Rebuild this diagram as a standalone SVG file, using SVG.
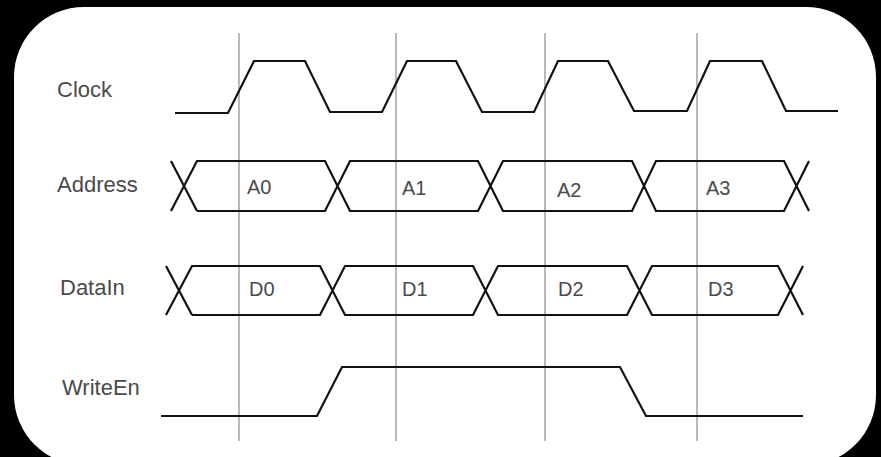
<svg xmlns="http://www.w3.org/2000/svg" width="881" height="457" viewBox="0 0 881 457">
<style>
.sig{fill:none;stroke:#111;stroke-width:2.2;stroke-linejoin:miter}
.grid{stroke:#8a8a8a;stroke-width:1.2}
.name{font-family:"Liberation Sans",Arial,sans-serif;font-size:22px;fill:#4a4a4a}
.val{font-family:"Liberation Sans",Arial,sans-serif;font-size:20px;fill:#4a4a4a}
</style>
<rect x="0" y="0" width="881" height="457" fill="#000"/>
<rect x="14" y="7" width="862" height="458" rx="70" ry="70" fill="#fff"/>
<g id="grid">
<line class="grid" x1="239" y1="33" x2="239" y2="441"/>
<line class="grid" x1="396" y1="33" x2="396" y2="441"/>
<line class="grid" x1="545" y1="33" x2="545" y2="441"/>
<line class="grid" x1="697" y1="33" x2="697" y2="441"/>
</g>
<g id="clock">
<text class="name" x="57" y="97">Clock</text>
<polyline class="sig" points="175,113 228,113 254,61 305,61 330,112 382,112 407,61 456,61 482,112 534,112 558,61 608,61 634,111 687,111 710,61 762,61 786,111 838,111"/>
</g>
<g id="address">
<text class="name" x="57" y="192">Address</text>
<path class="sig" d="M171,161 L197,211 M171,211 L197,161 L325,161 L350,211 L478,211 L503,161 L632,161 L656,211 L784,211 L809,161 M197,211 L325,211 L350,161 L478,161 L503,211 L632,211 L656,161 L784,161 L809,211"/>
<text class="val" x="247" y="194">A0</text>
<text class="val" x="402" y="195">A1</text>
<text class="val" x="557" y="197">A2</text>
<text class="val" x="706" y="195">A3</text>
</g>
<g id="datain">
<text class="name" x="60" y="295">DataIn</text>
<path class="sig" d="M166,266 L192,315 M166,315 L192,266 L320,266 L345,315 L473,315 L498,266 L627,266 L652,315 L778,315 L803,266 M192,315 L320,315 L345,266 L473,266 L498,315 L627,315 L652,266 L778,266 L803,315"/>
<text class="val" x="249" y="296">D0</text>
<text class="val" x="402" y="296">D1</text>
<text class="val" x="558" y="296">D2</text>
<text class="val" x="708" y="296">D3</text>
</g>
<g id="writeen">
<text class="name" x="62" y="395">WriteEn</text>
<polyline class="sig" points="161,416 317,416 342,367 620,367 646,416 803,416"/>
</g>
</svg>
